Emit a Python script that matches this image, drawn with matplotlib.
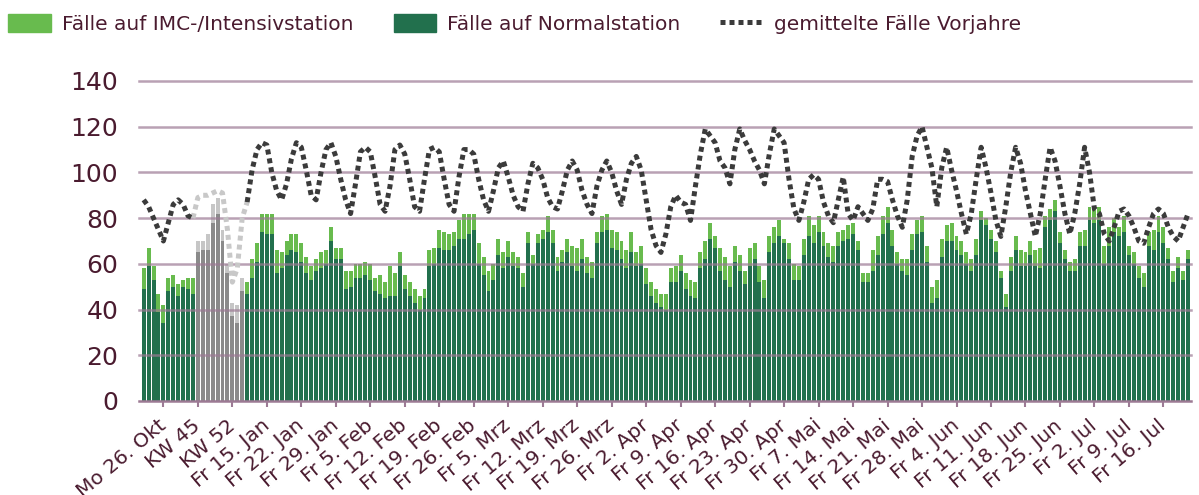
import numpy as np
import matplotlib
matplotlib.use('Agg')
import matplotlib.pyplot as plt
from matplotlib.patches import Patch
from matplotlib.lines import Line2D

# Gesamtfälle je Tag (Normal + IMC) und davon Normalstation
gesamt = [58, 67, 59, 47, 42, 54, 55, 51, 53, 54, 54, 70, 70, 73, 86, 89, 75, 60, 43, 42,
          54, 52, 62, 69, 82, 82, 82, 66, 65, 70, 73, 73, 69, 63, 59, 62, 65, 66, 76, 67,
          67, 57, 57, 60, 60, 61, 60, 54, 55, 52, 59, 56, 65, 55, 52, 49, 46, 49, 66, 67,
          75, 74, 73, 74, 79, 82, 82, 82, 69, 63, 57, 60, 71, 65, 70, 65, 63, 56, 74, 64,
          73, 75, 81, 75, 63, 66, 71, 68, 67, 71, 63, 61, 74, 81, 82, 75, 74, 70, 66, 74,
          65, 68, 58, 52, 49, 47, 47, 58, 59, 64, 56, 53, 52, 65, 70, 78, 72, 67, 63, 59,
          68, 64, 57, 67, 69, 59, 53, 72, 76, 79, 71, 69, 60, 59, 71, 81, 77, 81, 74, 69,
          68, 74, 75, 77, 78, 70, 56, 56, 66, 72, 81, 85, 75, 65, 62, 62, 73, 79, 81, 68,
          50, 53, 71, 77, 78, 72, 70, 65, 62, 71, 83, 80, 75, 70, 57, 47, 63, 72, 66, 65,
          70, 66, 67, 81, 84, 88, 74, 66, 61, 62, 74, 75, 85, 85, 85, 68, 76, 80, 76, 81,
          68, 65, 59, 56, 74, 75, 81, 76, 67, 57, 63, 57, 66]
normal = [49, 59, 53, 39, 34, 48, 50, 46, 50, 49, 47, 65, 66, 66, 78, 82, 70, 56, 37, 34,
          48, 47, 54, 61, 74, 73, 73, 56, 58, 64, 66, 65, 61, 56, 53, 57, 58, 60, 70, 62,
          62, 49, 50, 54, 54, 55, 53, 48, 47, 45, 46, 46, 59, 49, 46, 43, 40, 45, 59, 60,
          67, 66, 66, 68, 71, 71, 73, 75, 60, 55, 48, 53, 64, 58, 63, 59, 58, 50, 69, 60,
          69, 71, 74, 69, 57, 61, 65, 59, 57, 62, 56, 54, 69, 74, 75, 67, 66, 62, 58, 65,
          59, 60, 51, 46, 43, 41, 40, 52, 52, 57, 49, 46, 45, 58, 62, 71, 67, 57, 53, 50,
          61, 57, 51, 59, 62, 52, 45, 65, 69, 72, 69, 62, 53, 53, 64, 72, 69, 74, 68, 63,
          61, 68, 70, 71, 73, 66, 52, 52, 57, 64, 73, 78, 68, 60, 57, 55, 66, 73, 74, 61,
          43, 45, 63, 70, 70, 66, 64, 60, 57, 64, 79, 77, 71, 65, 54, 41, 57, 66, 59, 59,
          64, 59, 58, 76, 79, 83, 69, 62, 57, 57, 68, 68, 79, 78, 79, 60, 68, 74, 72, 74,
          64, 60, 54, 50, 68, 66, 74, 69, 62, 52, 58, 53, 62]
# gemittelte Fälle der Vorjahre
vorjahre = [88, 85, 80, 75, 70, 78, 86, 88, 86, 81, 80, 89, 90, 90, 91, 92, 91, 75, 52, 58,
            80, 87, 101, 110, 113, 112, 100, 92, 88, 95, 106, 113, 111, 101, 90, 88, 100, 110, 113, 107,
            97, 88, 82, 95, 109, 111, 109, 98, 86, 83, 94, 110, 112, 108, 97, 85, 83, 97, 110, 111,
            109, 97, 86, 83, 98, 110, 110, 108, 97, 88, 83, 92, 102, 105, 98, 90, 85, 83, 95, 104,
            102, 97, 89, 85, 84, 92, 101, 105, 101, 92, 86, 82, 94, 101, 105, 100, 92, 86, 97, 104,
            107, 101, 88, 75, 68, 65, 73, 85, 90, 87, 86, 79, 94, 108, 119, 116, 113, 105, 102, 95,
            110, 119, 114, 110, 105, 101, 95, 108, 119, 116, 113, 97, 84, 79, 87, 97, 99, 97, 87, 81,
            78, 88, 98, 82, 79, 85, 82, 79, 84, 97, 97, 96, 88, 81, 76, 88, 107, 116, 120, 111,
            102, 85, 102, 111, 101, 92, 82, 73, 82, 97, 111, 102, 91, 79, 72, 85, 100, 111, 104, 92,
            82, 72, 82, 97, 111, 105, 94, 82, 73, 82, 95, 111, 100, 84, 82, 73, 70, 76, 83, 84,
            81, 76, 70, 69, 76, 82, 84, 82, 76, 72, 70, 76, 82]
# Wochenwerte (grau dargestellt)
grau = range(11, 21)

labels = ['Mo 26. Okt', 'KW 45', 'KW 52', 'Fr 15. Jan', 'Fr 22. Jan', 'Fr 29. Jan',
          'Fr 5. Feb', 'Fr 12. Feb', 'Fr 19. Feb', 'Fr 26. Feb', 'Fr 5. Mrz', 'Fr 12. Mrz',
          'Fr 19. Mrz', 'Fr 26. Mrz', 'Fr 2. Apr', 'Fr 9. Apr', 'Fr 16. Apr', 'Fr 23. Apr',
          'Fr 30. Apr', 'Fr 7. Mai', 'Fr 14. Mai', 'Fr 21. Mai', 'Fr 28. Mai', 'Fr 4. Jun',
          'Fr 11. Jun', 'Fr 18. Jun', 'Fr 25. Jun', 'Fr 2. Jul', 'Fr 9. Jul', 'Fr 16. Jul']

gruen_dunkel = '#22704D'
gruen_hell = '#68BB4E'
grau_dunkel = '#8A8A8A'
grau_hell = '#C6C6C6'
textfarbe = '#4A1B2F'
gitter = '#9C7A94'

n = len(gesamt)
x = np.arange(n)
normal = np.array(normal)
imc = np.array(gesamt) - normal
ist_grau = np.isin(x, list(grau))

farben_unten = [grau_dunkel if g else gruen_dunkel for g in ist_grau]
farben_oben = [grau_hell if g else gruen_hell for g in ist_grau]

fig = plt.figure(figsize=(11.99, 4.95), dpi=100)
ax = fig.add_axes([139 / 1199, 1 - 401 / 495, 1052 / 1199, 320 / 495])

ax.bar(x, normal, width=0.8, color=farben_unten, zorder=2)
ax.bar(x, imc, bottom=normal, width=0.8, color=farben_oben, zorder=2)

# Vorjahreslinie: dunkel fuer Tageswerte, hellgrau im Wochenbereich
vj = np.array(vorjahre, dtype=float)
vj_dunkel = vj.copy()
vj_dunkel[11:21] = np.nan
vj_grau = np.full(n, np.nan)
vj_grau[10:22] = vj[10:22]
ax.plot(x, vj_grau, color='#C8C8C8', lw=3.6, linestyle=(0, (1, 0.8)), zorder=4)
ax.plot(x, vj_dunkel, color='#3B3B3B', lw=3.6, linestyle=(0, (1, 0.8)), zorder=4)

ax.set_ylim(0, 140)
ax.set_xlim(-0.95, 212.6)
ax.set_yticks(range(0, 141, 20))
for v in range(20, 141, 20):
    ax.axhline(v, color=gitter, lw=1.8, alpha=0.7, zorder=3, clip_on=False)

for s in ['top', 'right', 'left']:
    ax.spines[s].set_visible(False)
ax.spines['bottom'].set_color(gitter)
ax.spines['bottom'].set_linewidth(1.8)
ax.spines['bottom'].set_zorder(3)

ax.set_xticks(np.arange(4, n, 7)[:len(labels)])
ax.set_xticklabels(labels, rotation=40, ha='right', va='center', rotation_mode='anchor',
                   fontsize=14.5, color=textfarbe)
ax.tick_params(axis='x', length=4, width=1.5, color=gitter, pad=12)
ax.tick_params(axis='y', length=0, pad=15, labelsize=18, labelcolor=textfarbe)

handles = [Patch(color=gruen_hell), Patch(color=gruen_dunkel),
           Line2D([0], [0], color='#3B3B3B', lw=3.6, linestyle=(0, (1, 0.8)))]
texte = ['Fälle auf IMC-/Intensivstation', 'Fälle auf Normalstation', 'gemittelte Fälle Vorjahre']
leg = fig.legend(handles, texte, loc='upper left', bbox_to_anchor=(0.007, 0.972), ncol=3,
                 frameon=False, fontsize=14.5, handlelength=2.1, handleheight=1.0,
                 columnspacing=2.0, handletextpad=0.55, borderaxespad=0, borderpad=0)
for t in leg.get_texts():
    t.set_color(textfarbe)

fig.savefig('out.png', dpi=100)
